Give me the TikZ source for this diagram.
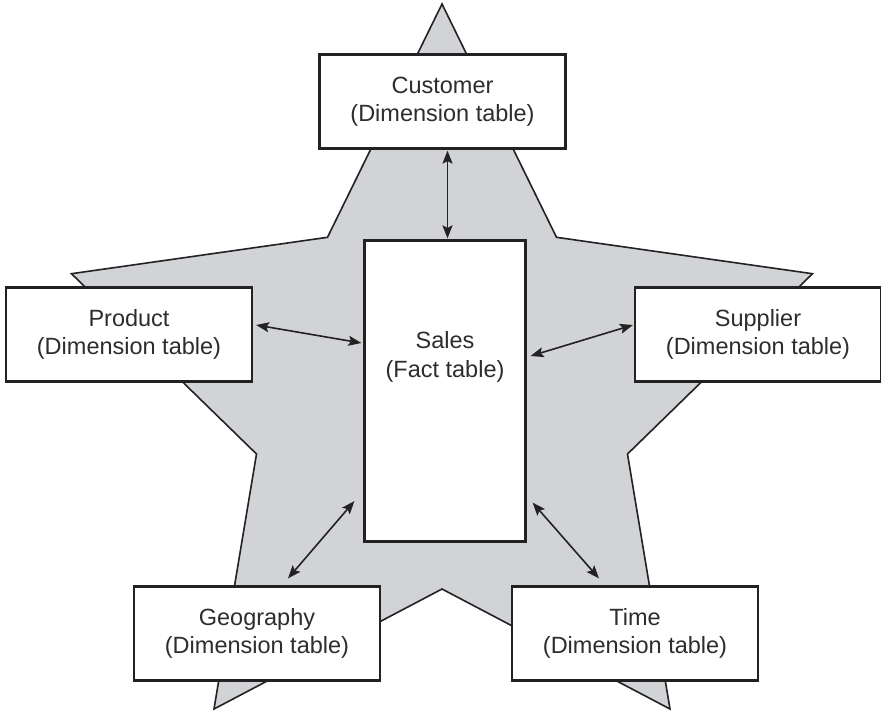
\documentclass[tikz,border=0pt]{standalone}
\usepackage{fontspec}
\setmainfont{Liberation Sans}
\usetikzlibrary{arrows.meta,calc}
\definecolor{starfill}{RGB}{210,211,214}
\definecolor{inkline}{RGB}{34,34,34}
\definecolor{inktext}{RGB}{45,45,45}
\begin{document}
\begin{tikzpicture}[x=1pt,y=-1pt,
  dimbox/.style={draw=inkline, line width=2.2pt, fill=white, minimum width=246pt, minimum height=94pt,
    align=center, inner sep=0pt, text=inktext, font=\fontsize{23.5}{28.5}\selectfont},
  factbox/.style={draw=inkline, line width=2.2pt, fill=white, minimum width=161pt, minimum height=301pt, inner sep=0pt},
  boxtext/.style={align=center, inner sep=0pt, text=inktext, font=\fontsize{23.5}{28.5}\selectfont},
  arr/.style={draw=inkline, line width=1.6pt, {Stealth[length=13pt,width=10pt,inset=2.5pt]}-{Stealth[length=13pt,width=10pt,inset=2.5pt]}},
  starline/.style={draw=inkline, line width=1.6pt, fill=starfill, line join=miter}]
\useasboundingbox (0,0) rectangle (881,713);
% star background
\draw[starline] (442,4) -- (556.5,237.3) -- (812.5,273.7) -- (627.5,454) -- (670,709)
  -- (442,589) -- (214,709) -- (256.5,454) -- (71.5,273.7) -- (327.5,237.3) -- cycle;
% boxes
\node[dimbox] (customer) at (442.5,101.5) {Customer\\(Dimension table)};
\node[dimbox] (product) at (129,334.5) {Product\\(Dimension table)};
\node[dimbox] (supplier) at (758,334.5) {Supplier\\(Dimension table)};
\node[dimbox] (geography) at (257,633.5) {Geography\\(Dimension table)};
\node[dimbox] (time) at (635,633.5) {Time\\(Dimension table)};
\node[factbox] (sales) at (445,391) {};
\node[boxtext] (salestext) at (445,357) {Sales\\(Fact table)};
% connectors
\draw[arr] ($(customer.south)+(5,1)$) -- ($(sales.north)+(2.5,-1)$);
\draw[arr] ($(product.east)+(3,-9.5)$) -- ($(sales.west)+(-2,-48)$);
\draw[arr] ($(supplier.west)+(-1,-9.5)$) -- ($(sales.east)+(4,-35)$);
\draw[arr] ($(geography.north)+(31,-7)$) -- ($(sales.south west)+(-9,-41.5)$);
\draw[arr] ($(sales.south east)+(6,-40)$) -- ($(time.north)+(-36,-7)$);
\end{tikzpicture}
\end{document}
